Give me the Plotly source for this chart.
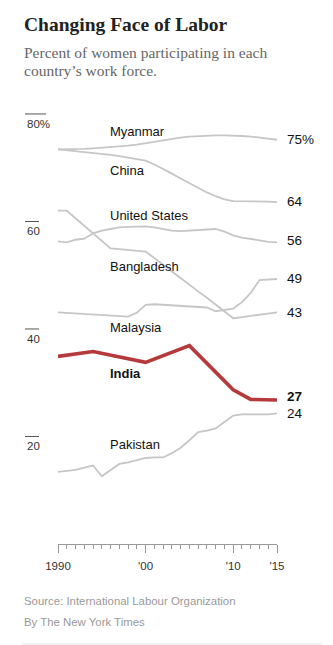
import plotly.graph_objects as go

# ---------------- data ----------------
years = list(range(1990, 2016))

myanmar = [73.4, 73.4, 73.4, 73.5, 73.6, 73.7, 73.8, 73.9, 74.1, 74.3, 74.5, 74.8, 75.1,
           75.4, 75.6, 75.8, 75.9, 76.0, 76.0, 76.0, 76.0, 75.9, 75.8, 75.6, 75.4, 75.2]
china = [73.4, 73.25, 73.1, 72.95, 72.8, 72.6, 72.4, 72.15, 71.9, 71.6, 71.3, 70.6, 69.8,
         68.9, 68.0, 67.1, 66.2, 65.4, 64.7, 64.1, 63.8, 63.8, 63.8, 63.7, 63.7, 63.6]
united_states = [56.3, 56.1, 56.6, 56.8, 57.8, 58.3, 58.6, 58.9, 59.0, 59.1, 59.1, 58.9, 58.6,
                 58.3, 58.2, 58.3, 58.4, 58.5, 58.6, 58.1, 57.4, 57.0, 56.8, 56.5, 56.2, 56.1]
bangladesh = [62.0, 62.0, 60.6, 59.2, 57.8, 56.4, 55.0, 54.85, 54.7, 54.55, 54.4, 53.2, 51.9,
              50.7, 49.5, 48.2, 47.0, 45.8, 44.5, 43.3, 42.0, 42.2, 42.4, 42.6, 42.9, 43.1]
malaysia = [43.1, 43.0, 42.9, 42.8, 42.7, 42.6, 42.5, 42.4, 42.3, 43.0, 44.5, 44.6, 44.5,
            44.4, 44.4, 44.3, 44.2, 44.0, 43.3, 43.6, 43.8, 45.0, 46.7, 49.1, 49.2, 49.3]
pakistan = [13.4, 13.6, 13.8, 14.2, 14.6, 12.6, 13.75, 14.9, 15.2, 15.6, 16.0, 16.1, 16.1,
            16.9, 17.9, 19.3, 20.8, 21.1, 21.5, 22.7, 23.9, 24.1, 24.1, 24.0, 24.1, 24.3]
india_years = [1990, 1994, 2000, 2005, 2010, 2012, 2015]
india = [34.9, 35.8, 33.8, 36.9, 28.7, 26.9, 26.8]

countries = ["Myanmar", "China", "United States", "Bangladesh", "Malaysia", "Pakistan"]
gray_series = [myanmar, china, united_states, bangladesh, malaysia, pakistan]
label_values = {"Myanmar": 76.7, "China": 69.4, "United States": 61.2, "Bangladesh": 51.6,
                "Malaysia": 40.3, "India": 31.8, "Pakistan": 18.5}

y_ticks = [80, 60, 40, 20]
y_tick_text = ["80%", "60", "40", "20"]
x_tickvals = [1990, 2000, 2010, 2015]
x_ticktext = ["1990", "'00", "'10", "'15"]

title = "Changing Face of Labor"
subtitle = ["Percent of women participating in each", "country\u2019s work force."]
source = "Source: International Labour Organization"
credit = "By The New York Times"

# ---------------- layout constants ----------------
FW, FH = 333, 645
L, R, T, B = 58, 56, 0, 101
W, H = FW - L - R, FH - T - B
YMAX = 101.2
SANS = "Liberation Sans, Arial, sans-serif"
SERIF = "Liberation Serif, Times New Roman, serif"
GRAY = "#c6c6c6"
RED = "#b6393b"


def px_x(px):
    return (px - L) / W


def px_y(py):
    return 1 - (py - T) / H


fig = go.Figure()

for name, vals in zip(countries, gray_series):
    fig.add_trace(go.Scatter(x=years, y=vals, mode="lines", name=name,
                             line=dict(color=GRAY, width=1.8), hoverinfo="skip"))
fig.add_trace(go.Scatter(x=india_years, y=india, mode="lines", name="India",
                         line=dict(color=RED, width=3.6), hoverinfo="skip"))

ann = []
# title & subtitle
ann.append(dict(x=px_x(22), y=px_y(25), xref="paper", yref="paper", xanchor="left", yanchor="middle",
                text=f"<b>{title}</b>", showarrow=False,
                font=dict(family=SERIF, size=19.5, color="#222")))
for i, line in enumerate(subtitle):
    ann.append(dict(x=px_x(22), y=px_y(52 + 18.5 * i), xref="paper", yref="paper",
                    xanchor="left", yanchor="middle", text=line, showarrow=False,
                    font=dict(family=SERIF, size=15.5, color="#666")))

# y tick labels and little rules
shapes = []
for v, t in zip(y_ticks, y_tick_text):
    ann.append(dict(x=px_x(25), y=v, xref="paper", yref="y", xanchor="left", yanchor="middle",
                    yshift=-10, text=t, showarrow=False,
                    font=dict(family=SANS, size=11.5, color="#333")))
    wpx = 21 if t.endswith("%") else 14
    shapes.append(dict(type="line", xref="paper", yref="y", x0=px_x(25), x1=px_x(25 + wpx),
                       y0=v, y1=v, line=dict(color="#555", width=1)))

# country labels
for name, v in label_values.items():
    txt = f"<b>{name}</b>" if name == "India" else name
    ann.append(dict(x=1995.7, y=v, xref="x", yref="y", xanchor="left", yanchor="middle",
                    text=txt, showarrow=False,
                    font=dict(family=SANS, size=13, color="#111")))

# end labels
end_shift = {"United States": 2, "India": 3, "China": 1}
ends = list(zip(countries, [s[-1] for s in gray_series])) + [("India", india[-1])]
for name, v in ends:
    txt = f"{round(v)}" + ("%" if name == "Myanmar" else "")
    if name == "India":
        txt = f"<b>{txt}</b>"
    ann.append(dict(x=px_x(285), y=v, xref="paper", yref="y", xanchor="left", yanchor="middle",
                    yshift=end_shift.get(name, 0), text=txt, showarrow=False,
                    font=dict(family=SANS, size=13.5, color="#111")))

# footer
ann.append(dict(x=px_x(22), y=px_y(600.5), xref="paper", yref="paper", xanchor="left",
                yanchor="middle", text=source, showarrow=False,
                font=dict(family=SANS, size=11.4, color="#999")))
ann.append(dict(x=px_x(22), y=px_y(621.5), xref="paper", yref="paper", xanchor="left",
                yanchor="middle", text=credit, showarrow=False,
                font=dict(family=SANS, size=11.4, color="#999")))
shapes.append(dict(type="line", xref="paper", yref="paper", x0=px_x(22), x1=px_x(322),
                   y0=px_y(644), y1=px_y(644), line=dict(color="#e4e4e4", width=1)))

fig.update_layout(
    width=FW, height=FH,
    margin=dict(l=L, r=R, t=T, b=B, pad=0),
    paper_bgcolor="white", plot_bgcolor="white",
    showlegend=False,
    annotations=ann, shapes=shapes,
    xaxis=dict(range=[1990, 2015], showline=True, linecolor="#999", linewidth=1,
               ticks="outside", ticklen=8, tickcolor="#999", tickwidth=1,
               tickvals=x_tickvals, ticktext=x_ticktext, ticklabelstandoff=3,
               tickfont=dict(family=SANS, size=11.5, color="#333"),
               showgrid=False, zeroline=False, fixedrange=True,
               minor=dict(ticks="outside", ticklen=4, tickcolor="#999", tickwidth=1,
                          dtick=1, tick0=1990, showgrid=False)),
    yaxis=dict(range=[0, YMAX], visible=False, fixedrange=True),
)

fig.write_html("out.html", config={"displayModeBar": False})
